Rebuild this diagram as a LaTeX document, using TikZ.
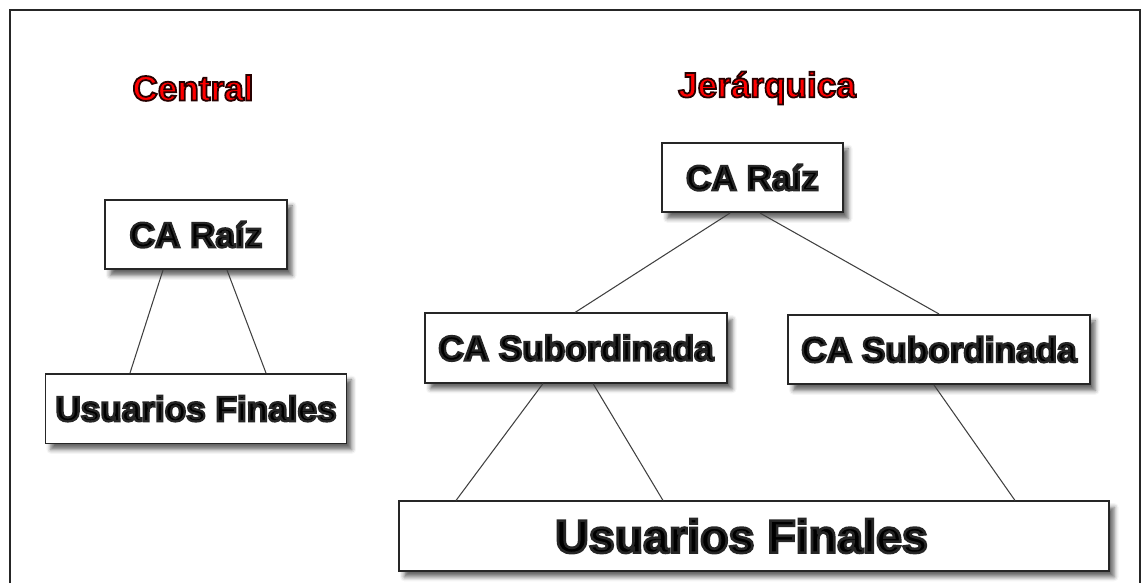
\documentclass[tikz,border=0pt]{standalone}
\usepackage{fontspec}
\setmainfont{Liberation Sans}
\usetikzlibrary{calc}
\usetikzlibrary{positioning}
\usetikzlibrary{shadows.blur}
% filled text with a stroked rim: fill colour, stroke rgb, stroke width, text
\newcommand{\rim}[4]{{\color{#1}\special{pdf:literal direct #2 RG #3 w 2 Tr}#4\special{pdf:literal direct 0 Tr}}}
\tikzset{
  frame/.style={draw=black!85, line width=1.1pt},
  title/.style={font=\bfseries\fontsize{20}{24}\selectfont},
  ca/.style={rectangle, draw=black!85, line width=0.9pt, fill=white, inner sep=0pt,
    minimum height=1.39cm, font=\bfseries\fontsize{20}{24}\selectfont,
    blur shadow={shadow xshift=3pt, shadow yshift=-3.5pt, shadow blur radius=2.5pt, shadow opacity=60}},
  link/.style={draw=black!75, line width=0.6pt}
  }

\begin{document}
\begin{tikzpicture}[x=0.02cm, y=-0.02cm]
	% Frame
	\useasboundingbox (0,0) rectangle (1148,583);
	\draw[frame] (10,583) -- (10,10) -- (1140,10) -- (1140,583);

	% Titles
	\node[title] (central) at (193,88) {\rim{red}{0.15 0 0}{1}{Central}};
	\node[title] (jerarquica) at (767,88) {\rim{red}{0.15 0 0}{1}{Jerárquica}};

	% Central
	\node[ca, minimum width=3.64cm] (rootL) at (196,234.5) {\rim{black}{0.15 0.15 0.15}{1.3}{CA Raíz}};
	\node[ca, minimum width=6.02cm, below=2.06cm of rootL] (usersL) {\rim{black}{0.15 0.15 0.15}{1.3}{Usuarios Finales}};

	% Hierarchical
	\node[ca, minimum width=3.62cm] (rootR) at (752.5,177.5) {\rim{black}{0.15 0.15 0.15}{1.3}{CA Raíz}};
	\node[ca, minimum width=6.04cm] (subA) at (576,348) {\rim{black}{0.15 0.15 0.15}{1.3}{CA Subordinada}};
	\node[ca, minimum width=6.04cm] (subB) at (939,349.5) {\rim{black}{0.15 0.15 0.15}{1.3}{CA Subordinada}};
	\node[ca, minimum width=14.2cm, font=\bfseries\fontsize{26.5}{30}\selectfont] (usersR) at (754,536) {\rim{black}{0.15 0.15 0.15}{1.5}{Usuarios Finales}\kern0.5cm};

	% Lines
	\draw[link] ($(rootL.south)+(-33,0)$) -- ($(usersL.north)+(-66,0)$);
	\draw[link] ($(rootL.south)+(31,0)$) -- ($(usersL.north)+(70,0)$);
	\draw[link] ($(rootR.south)+(-22.5,0)$) -- ($(subA.north)+(-1,0)$);
	\draw[link] ($(rootR.south)+(7.5,0)$) -- (subB.north);
	\draw[link] ($(subA.south)+(-33,0)$) -- ($(usersR.north)+(-298,0)$);
	\draw[link] ($(subA.south)+(17,0)$) -- ($(usersR.north)+(-91,0)$);
	\draw[link] ($(subB.south)+(-5,0)$) -- ($(usersR.north)+(261,0)$);
\end{tikzpicture}
\end{document}
